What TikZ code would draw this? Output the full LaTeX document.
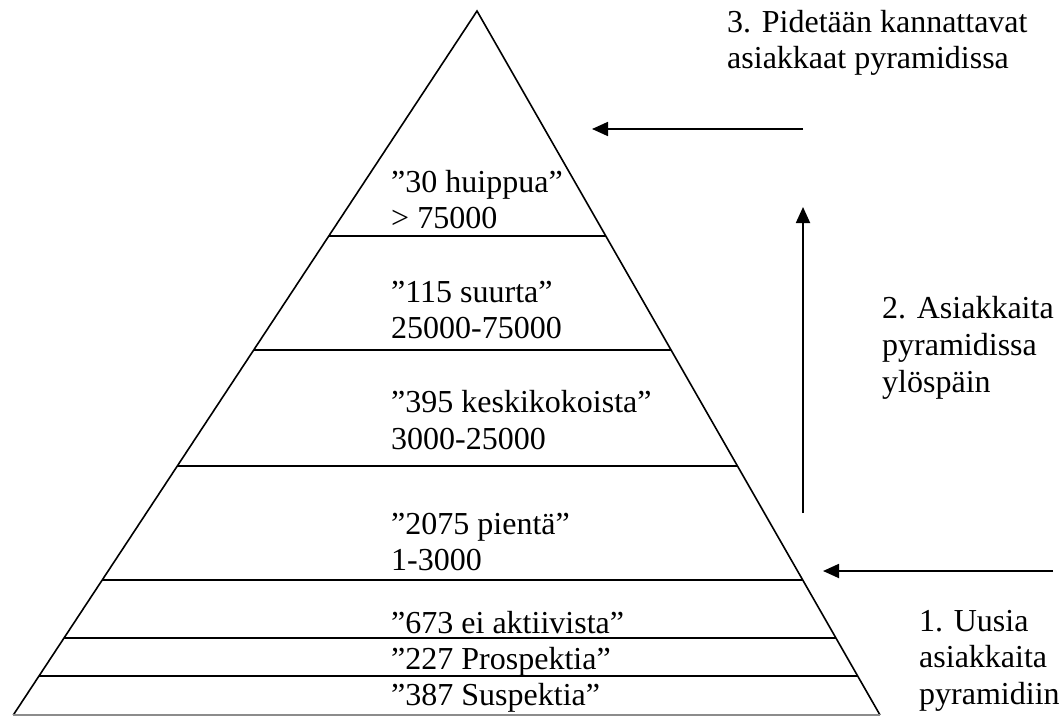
\documentclass[tikz,border=0pt]{standalone}
\usepackage{fontspec}
\setmainfont{Liberation Serif}
\usetikzlibrary{arrows.meta}
\begin{document}
\begin{tikzpicture}[x=1pt,y=-1pt,
  edge/.style={line width=1.6pt},
  band/.style={line width=1.7pt},
  lbl/.style={anchor=base west,inner sep=0pt,font=\fontsize{32}{36}\selectfont},
  arr/.style={line width=1.8pt,-{Triangle[length=16pt,width=14pt]}}]
\useasboundingbox (0,0) rectangle (1062,715);
% pyramid
\coordinate (apex) at (477,11);
\coordinate (bl) at (13.3,715);
\coordinate (br) at (880,715);
\draw[edge] (bl) -- (apex) -- (br);
\draw[band] (328.8,236) -- (605.7,236);
\draw[band] (253.7,350) -- (670.9,350);
\draw[band] (177.3,466) -- (737.3,466);
\draw[band] (102.3,580) -- (802.5,580);
\draw[band] (64.1,638) -- (835.6,638);
\draw[band] (39,676) -- (857.4,676);
\draw[band,black!45] (bl) -- (br);
% level labels
\node[lbl] (l1a) at (391,192) {”30 huippua”};
\node[lbl] (l1b) at (391,228) {> 75000};
\node[lbl] (l2a) at (391,302) {”115 suurta”};
\node[lbl] (l2b) at (391,338) {25000-75000};
\node[lbl] (l3a) at (391,412) {”395 keskikokoista”};
\node[lbl] (l3b) at (391,449) {3000-25000};
\node[lbl] (l4a) at (391,534) {”2075 pientä”};
\node[lbl] (l4b) at (391,570) {1-3000};
\node[lbl] (l5) at (391,633) {”673 ei aktiivista”};
\node[lbl] (l6) at (391,669) {”227 Prospektia”};
\node[lbl] (l7) at (391,705) {”387 Suspektia”};
% side labels
\node[lbl] (r3a) at (727,32) {3. Pidetään kannattavat};
\node[lbl] (r3b) at (727,68) {asiakkaat pyramidissa};
\node[lbl] (r2a) at (882,318) {2. Asiakkaita};
\node[lbl] (r2b) at (882,355) {pyramidissa};
\node[lbl] (r2c) at (882,392) {ylöspäin};
\node[lbl] (r1a) at (919,631) {1. Uusia};
\node[lbl] (r1b) at (919,667) {asiakkaita};
\node[lbl] (r1c) at (919,704) {pyramidiin};
% arrows
\coordinate (a3s) at (803,129);
\coordinate (a3e) at (592,129);
\coordinate (a2s) at (803,513);
\coordinate (a2e) at (803,207);
\coordinate (a1s) at (1053,571);
\coordinate (a1e) at (823,571);
\draw[arr] (a3s) -- (a3e);
\draw[arr] (a2s) -- (a2e);
\draw[arr] (a1s) -- (a1e);
\end{tikzpicture}
\end{document}
